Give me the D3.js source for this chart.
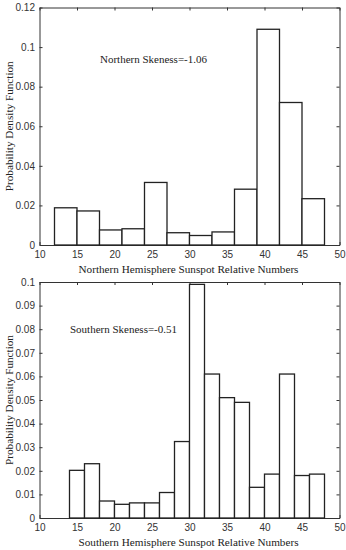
<!DOCTYPE html>
<html>
<head>
<meta charset="utf-8">
<script src="https://cdn.jsdelivr.net/npm/d3@7"></script>
<style>
  body { margin: 0; background: #fff; }
  .tick text { font-family: "Liberation Sans", Arial, sans-serif; font-size: 10px; fill: #333; }
  .serif { font-family: "Liberation Serif", "Times New Roman", serif; fill: #222; }
</style>
</head>
<body>
<svg id="chart" width="346" height="550"></svg>
<script>
// Northern hemisphere: bins of width 3 from 12 to 48
const northEdges = [12, 15, 18, 21, 24, 27, 30, 33, 36, 39, 42, 45, 48];
const northPdf = [0.0188, 0.0172, 0.0076, 0.0082, 0.0316, 0.0062, 0.0048, 0.0066, 0.0282, 0.109, 0.072, 0.0234];

// Southern hemisphere: bins of width 2 from 14 to 48
const southEdges = [14, 16, 18, 20, 22, 24, 26, 28, 30, 32, 34, 36, 38, 40, 42, 44, 46, 48];
const southPdf = [0.0202, 0.0230, 0.0072, 0.0058, 0.0064, 0.0064, 0.0108, 0.0324, 0.099, 0.061, 0.051, 0.049, 0.013, 0.0186, 0.061, 0.018, 0.0186];

const xTicks = [10, 15, 20, 25, 30, 35, 40, 45, 50];
const northYTicks = [0, 0.02, 0.04, 0.06, 0.08, 0.1, 0.12];
const southYTicks = [0, 0.01, 0.02, 0.03, 0.04, 0.05, 0.06, 0.07, 0.08, 0.09, 0.1];

const svg = d3.select('#chart');

function drawPanel({ top, bottom, edges, values, yMax, yTicks, xTitle, note, noteX, noteY }) {
  const left = 39.5, right = 339.5;
  const x = d3.scaleLinear().domain([10, 50]).range([left, right]);
  const y = d3.scaleLinear().domain([0, yMax]).range([bottom, top]);
  const g = svg.append('g');
  const tl = 3;

  const fmt = d => d === 0 ? '0' : String(+d.toFixed(2));

  // axes with inward ticks on all sides
  g.append('g').attr('transform', `translate(0,${bottom})`)
    .call(d3.axisBottom(x).tickValues(xTicks).tickSizeInner(-tl).tickSizeOuter(0).tickPadding(6));
  g.append('g').attr('transform', `translate(0,${top})`)
    .call(d3.axisTop(x).tickValues(xTicks).tickSizeInner(-tl).tickSizeOuter(0).tickFormat(''));
  g.append('g').attr('transform', `translate(${left},0)`)
    .call(d3.axisLeft(y).tickValues(yTicks).tickSizeInner(-tl).tickSizeOuter(0).tickPadding(4.5).tickFormat(fmt));
  g.append('g').attr('transform', `translate(${right},0)`)
    .call(d3.axisRight(y).tickValues(yTicks).tickSizeInner(-tl).tickSizeOuter(0).tickFormat(''));
  g.selectAll('.domain').attr('stroke', '#333').attr('stroke-width', 1);
  g.selectAll('.tick line').attr('stroke', '#333');

  // bars
  g.selectAll('rect.bar')
    .data(values)
    .enter()
    .append('rect')
      .attr('class', 'bar')
      .attr('x', (d, i) => x(edges[i]))
      .attr('width', (d, i) => x(edges[i + 1]) - x(edges[i]))
      .attr('y', d => y(d))
      .attr('height', d => bottom - y(d))
      .attr('fill', '#fff')
      .attr('stroke', '#222')
      .attr('stroke-width', 1.3);

  g.append('text').attr('class', 'serif')
    .attr('x', (left + right) / 2 - 1).attr('y', bottom + 28)
    .attr('text-anchor', 'middle').attr('font-size', 11.2)
    .text(xTitle);

  g.append('text').attr('class', 'serif')
    .attr('transform', `translate(12.5,${(top + bottom) / 2}) rotate(-90)`)
    .attr('text-anchor', 'middle').attr('font-size', 11.2)
    .text('Probability Density Function');

  g.append('text').attr('class', 'serif')
    .attr('x', noteX).attr('y', noteY)
    .attr('font-size', 11)
    .text(note);
}

drawPanel({
  top: 7.5, bottom: 245, edges: northEdges, values: northPdf, yMax: 0.12,
  yTicks: northYTicks, xTitle: 'Northern Hemisphere Sunspot Relative Numbers',
  note: 'Northern Skeness=-1.06', noteX: 100, noteY: 63
});

drawPanel({
  top: 282, bottom: 518, edges: southEdges, values: southPdf, yMax: 0.1,
  yTicks: southYTicks, xTitle: 'Southern Hemisphere Sunspot Relative Numbers',
  note: 'Southern Skeness=-0.51', noteX: 70, noteY: 333
});
</script>
</body>
</html>
